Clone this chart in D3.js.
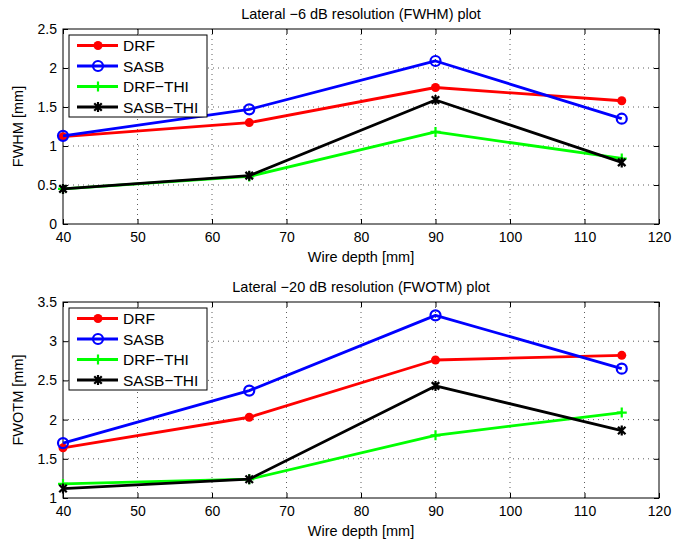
<!DOCTYPE html>
<html>
<head>
<meta charset="utf-8">
<script src="https://cdn.jsdelivr.net/npm/d3@7"></script>
<style>
body { margin: 0; background: #fff; }
text { font-family: "Liberation Sans", Arial, sans-serif; }
</style>
</head>
<body>
<script>
var w = 692;
var h = 546;

var depths = [40, 65, 90, 115];
var seriesNames = ["DRF", "SASB", "DRF\u2212THI", "SASB\u2212THI"];
var colors = ["#ff0000", "#0000ff", "#00ff00", "#000000"];
var markers = ["dot", "circle", "plus", "star"];

// top plot: FWHM
var fwhmDRF = [1.12, 1.30, 1.75, 1.58];
var fwhmSASB = [1.13, 1.47, 2.09, 1.35];
var fwhmDRFTHI = [0.45, 0.61, 1.18, 0.84];
var fwhmSASBTHI = [0.45, 0.62, 1.59, 0.79];

// bottom plot: FWOTM
var fwotmDRF = [1.64, 2.03, 2.76, 2.82];
var fwotmSASB = [1.70, 2.37, 3.33, 2.65];
var fwotmDRFTHI = [1.18, 1.24, 1.80, 2.09];
var fwotmSASBTHI = [1.12, 1.24, 2.43, 1.86];

var xTicks = [40, 50, 60, 70, 80, 90, 100, 110, 120];
var yTicksTop = [0, 0.5, 1, 1.5, 2, 2.5];
var yTicksBottom = [1, 1.5, 2, 2.5, 3, 3.5];

var svg = d3.select("body")
    .append("svg")
    .attr("width", w)
    .attr("height", h);

function markerPath(type, s) {
    if (type == "plus") return `M${-s},0H${s}M0,${-s}V${s}`;
    if (type == "star") {
        var d = s * 0.75;
        return `M${-d},${-d}L${d},${d}M${-d},${d}L${d},${-d}M0,${-s}V${s}`;
    }
    return "";
}

function drawMarker(g, type, color, x, y) {
    if (type == "dot") {
        g.append("circle").attr("cx", x).attr("cy", y).attr("r", 4.5).attr("fill", color);
    } else if (type == "circle") {
        g.append("circle").attr("cx", x).attr("cy", y).attr("r", 5)
            .attr("fill", "none").attr("stroke", color).attr("stroke-width", 2.2);
    } else {
        g.append("path").attr("transform", `translate(${x},${y})`)
            .attr("d", markerPath(type, 5))
            .attr("fill", "none").attr("stroke", color).attr("stroke-width", 2.2);
    }
}

function drawPlot(top, bottom, yDomain, yTicks, series, title, ylabel) {
    var left = 63, right = 659;
    var xScale = d3.scaleLinear().domain([40, 120]).range([left, right]);
    var yScale = d3.scaleLinear().domain(yDomain).range([bottom, top]);
    var g = svg.append("g");

    // grid
    g.selectAll(".gx").data(xTicks.slice(1, -1)).enter().append("line")
        .attr("x1", d => xScale(d)).attr("x2", d => xScale(d))
        .attr("y1", top).attr("y2", bottom)
        .attr("stroke", "#333").attr("stroke-width", 0.8).attr("stroke-dasharray", "1,4");
    g.selectAll(".gy").data(yTicks.slice(1, -1)).enter().append("line")
        .attr("x1", left).attr("x2", right)
        .attr("y1", d => yScale(d)).attr("y2", d => yScale(d))
        .attr("stroke", "#333").attr("stroke-width", 0.8).attr("stroke-dasharray", "1,4");

    // axes
    var xAxis = d3.axisBottom(xScale).tickValues(xTicks).tickSize(-5).tickPadding(8);
    var xAxisTop = d3.axisTop(xScale).tickValues(xTicks).tickSize(-5).tickFormat("");
    var yAxis = d3.axisLeft(yScale).tickValues(yTicks).tickSize(-5).tickPadding(6).tickFormat(d3.format("~g"));
    var yAxisRight = d3.axisRight(yScale).tickValues(yTicks).tickSize(-5).tickFormat("");

    [g.append("g").attr("transform", `translate(0,${bottom})`).call(xAxis),
     g.append("g").attr("transform", `translate(0,${top})`).call(xAxisTop),
     g.append("g").attr("transform", `translate(${left},0)`).call(yAxis),
     g.append("g").attr("transform", `translate(${right},0)`).call(yAxisRight)
    ].forEach(a => {
        a.select(".domain").remove();
        a.selectAll("line").attr("stroke", "#000");
        a.selectAll("text").attr("font-size", 14).attr("fill", "#000")
            .style("font-family", "'Liberation Sans', Arial, sans-serif");
    });

    g.append("rect").attr("x", left).attr("y", top)
        .attr("width", right - left).attr("height", bottom - top)
        .attr("fill", "none").attr("stroke", "#000").attr("stroke-width", 1);

    // lines
    var line = d3.line().x((d, i) => xScale(depths[i])).y(d => yScale(d));
    series.forEach((vals, k) => {
        g.append("path").attr("d", line(vals))
            .attr("fill", "none").attr("stroke", colors[k]).attr("stroke-width", 2.8)
            .attr("stroke-linejoin", "round");
        vals.forEach((v, i) => drawMarker(g, markers[k], colors[k], xScale(depths[i]), yScale(v)));
    });

    // legend
    var lg = g.append("g").attr("transform", `translate(69,${top + 6})`);
    lg.append("rect").attr("width", 138).attr("height", 82)
        .attr("fill", "#fff").attr("stroke", "#000").attr("stroke-width", 1);
    seriesNames.forEach((name, k) => {
        var yy = 10.5 + k * 20.5;
        lg.append("line").attr("x1", 8).attr("x2", 49).attr("y1", yy).attr("y2", yy)
            .attr("stroke", colors[k]).attr("stroke-width", 2.8);
        drawMarker(lg, markers[k], colors[k], 29, yy);
        lg.append("text").attr("x", 54).attr("y", yy).attr("dy", "0.36em")
            .attr("font-size", 15.5).text(name);
    });

    // labels
    g.append("text").attr("x", (left + right) / 2).attr("y", top - 10)
        .attr("text-anchor", "middle").attr("font-size", 14.5).text(title);
    g.append("text").attr("x", (left + right) / 2).attr("y", bottom + 38)
        .attr("text-anchor", "middle").attr("font-size", 14.5).text("Wire depth [mm]");
    g.append("text")
        .attr("transform", `translate(23,${(top + bottom) / 2}) rotate(-90)`)
        .attr("text-anchor", "middle").attr("font-size", 14.5).text(ylabel);
}

drawPlot(29, 224, [0, 2.5], yTicksTop,
    [fwhmDRF, fwhmSASB, fwhmDRFTHI, fwhmSASBTHI],
    "Lateral \u22126 dB resolution (FWHM) plot", "FWHM [mm]");
drawPlot(302, 498, [1, 3.5], yTicksBottom,
    [fwotmDRF, fwotmSASB, fwotmDRFTHI, fwotmSASBTHI],
    "Lateral \u221220 dB resolution (FWOTM) plot", "FWOTM [mm]");
</script>
</body>
</html>
